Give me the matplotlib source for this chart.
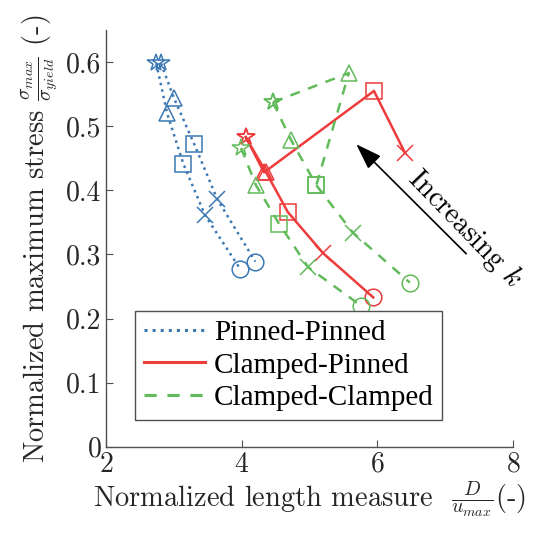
import numpy as np
import matplotlib
matplotlib.use('Agg')
import matplotlib.pyplot as plt
from matplotlib.lines import Line2D

plt.rcParams['font.family'] = ['Liberation Serif', 'DejaVu Serif']
plt.rcParams['mathtext.fontset'] = 'cm'
plt.rcParams['axes.formatter.use_mathtext'] = True

# marker order along each curve: star, triangle, square, x, circle
markers = ['*', '^', 's', 'x', 'o']

# Pinned-Pinned
pp1_x = [2.74, 2.90, 3.14, 3.46, 3.98]
pp1_y = [0.598, 0.520, 0.441, 0.361, 0.277]
pp2_x = [2.81, 3.00, 3.30, 3.64, 4.20]
pp2_y = [0.598, 0.544, 0.472, 0.386, 0.289]

# Clamped-Pinned
cp1_x = [4.06, 4.36, 4.68, 5.20, 5.94]
cp1_y = [0.483, 0.428, 0.366, 0.302, 0.233]
cp2_x = [4.06, 4.33, 5.95, 6.41]
cp2_y = [0.483, 0.428, 0.555, 0.458]

# Clamped-Clamped
cc1_x = [3.99, 4.21, 4.55, 4.98, 5.76]
cc1_y = [0.466, 0.408, 0.348, 0.280, 0.220]
cc2_x = [4.46, 4.73, 5.10, 5.64, 6.48]
cc2_y = [0.5375, 0.478, 0.408, 0.334, 0.256]
cc3_x = [4.46, 5.58, 5.10]
cc3_y = [0.5375, 0.583, 0.408]

blue = '#3c78b4'
red = '#ee3b3b'
green = '#62bb5a'
cm = 'cmr10'

fig = plt.figure(figsize=(5.36, 5.37), dpi=100)
ax = fig.add_axes([0.198, 0.168, 0.759, 0.776])


def curve(xs, ys, color, ls, dashes=None):
    ax.plot(xs, ys, color=color, linestyle=ls, linewidth=1.8,
            **({'dashes': dashes} if dashes else {}))
    for xv, yv, m in zip(xs, ys, markers):
        ax.plot(xv, yv, marker=m, color=color, markersize=12 if m != '*' else 13,
                markerfacecolor='none', markeredgewidth=1.1, linestyle='none')


curve(pp1_x, pp1_y, blue, ':')
curve(pp2_x, pp2_y, blue, ':')
curve(cp1_x, cp1_y, red, '-')
curve(cp2_x, cp2_y, red, '-')
curve(cc1_x, cc1_y, green, '--', dashes=(4, 3.5))
curve(cc2_x, cc2_y, green, '--', dashes=(4, 3.5))
curve(cc3_x, cc3_y, green, '--', dashes=(4, 3.5))

ax.annotate('', xy=(5.66, 0.475), xytext=(7.34, 0.298),
            arrowprops=dict(arrowstyle='-|>,head_length=1.6,head_width=0.55',
                            color='black', lw=1.2))
ax.text(7.29, 0.340, 'Increasing $k$', rotation=-46, fontsize=20.5, family=cm,
        ha='center', va='center', rotation_mode='anchor')

ax.set_xlim(2, 8)
ax.set_ylim(0, 0.65)
ax.set_xticks([2, 4, 6, 8])
ax.set_yticks([0, 0.1, 0.2, 0.3, 0.4, 0.5, 0.6])
ax.set_yticklabels(['0', '0.1', '0.2', '0.3', '0.4', '0.5', '0.6'])
ax.tick_params(direction='in', length=5, labelsize=20, colors='#505050',
               labelcolor='#262626')
for lbl in ax.get_xticklabels() + ax.get_yticklabels():
    lbl.set_fontfamily(cm)
for s in ['top', 'right']:
    ax.spines[s].set_visible(False)
for s in ['left', 'bottom']:
    ax.spines[s].set_color('#505050')
    ax.spines[s].set_linewidth(1.0)

ax.set_xlabel(r'Normalized length measure  $\frac{D}{u_{max}}$(-)', fontsize=20.5,
              family=cm, color='#262626', labelpad=1)
ax.set_ylabel(r'Normalized maximum stress $\frac{\sigma_{max}}{\sigma_{yield}}$ (-)',
              fontsize=20.5, family=cm, color='#262626', labelpad=4)

handles = [Line2D([], [], color=blue, linestyle=':', linewidth=2.2),
           Line2D([], [], color=red, linestyle='-', linewidth=2.2),
           Line2D([], [], color=green, linestyle='--', linewidth=2.2, dashes=(4, 3.5))]
leg = ax.legend(handles, ['Pinned-Pinned', 'Clamped-Pinned', 'Clamped-Clamped'],
                loc='lower left', bbox_to_anchor=(0.071, 0.065), borderaxespad=0,
                fontsize=21, fancybox=False, framealpha=1, edgecolor='#505050',
                handlelength=2.1, handletextpad=0.3, labelspacing=0.2,
                borderpad=0.3)
leg.get_frame().set_linewidth(1.0)

fig.savefig('out.png', dpi=100)
